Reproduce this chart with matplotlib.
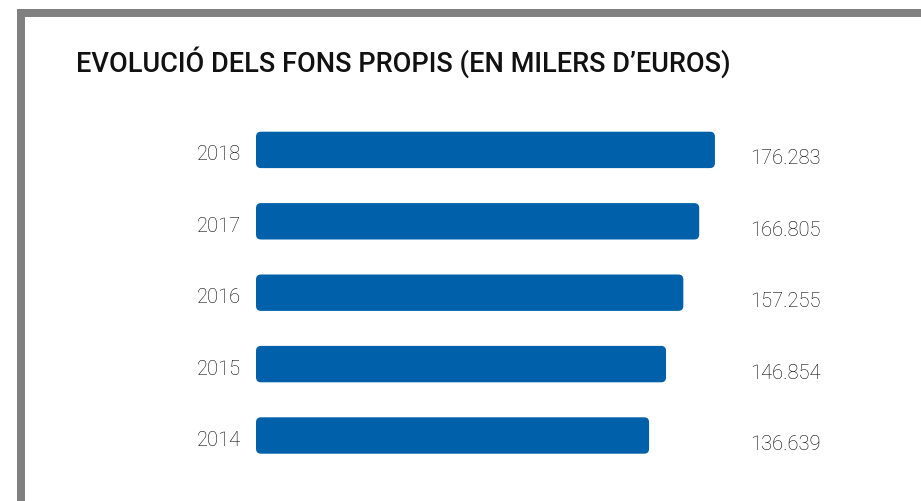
import matplotlib
matplotlib.use("Agg")
import matplotlib.pyplot as plt
from matplotlib.patches import FancyBboxPatch, Rectangle
import matplotlib.transforms as mtransforms

years = ["2014", "2015", "2016", "2017", "2018"]
values = [136639, 146854, 157255, 166805, 176283]
value_labels = ["136.639", "146.854", "157.255", "166.805", "176.283"]
title = "EVOLUCIÓ DELS FONS PROPIS (EN MILERS D\u2019EUROS)"

W, H, DPI = 921, 501, 100
BAR_COLOR = "#0061AA"
BASE = -100000          # where the bars start on the value axis
UNITS_PER_PX = 602.0    # value units per pixel
BAR_LEFT_PX = 256
ROW_PX = 71.4           # pixel spacing between rows
ROW0_PX = 435.5         # pixel y (from top) of the lowest row centre
BAR_H = 0.51

fig = plt.figure(figsize=(W / DPI, H / DPI), dpi=DPI)
ax = fig.add_axes([0, 0, 1, 1])
ax.set_xlim(BASE - BAR_LEFT_PX * UNITS_PER_PX, BASE + (W - BAR_LEFT_PX) * UNITS_PER_PX)
ax.set_ylim((ROW0_PX - H) / ROW_PX, ROW0_PX / ROW_PX)
ax.axis("off")

# aspect between y units and x units per pixel, for rounded corners
y_per_px = 1.0 / ROW_PX
aspect = y_per_px / UNITS_PER_PX
radius = 5 * UNITS_PER_PX

label_kw = dict(fontsize=14.5, family="Roboto", fontweight="light", color="#000000")

for i, (yr, v, lab) in enumerate(zip(years, values, value_labels)):
    box = FancyBboxPatch((BASE, i - BAR_H / 2), v - BASE, BAR_H,
                         boxstyle=f"round,pad=0,rounding_size={radius}",
                         mutation_aspect=aspect,
                         facecolor=BAR_COLOR, edgecolor="none")
    ax.add_patch(box)
    off = mtransforms.offset_copy(ax.transData, fig=fig, x=-15, y=-5, units="dots")
    ax.text(BASE, i, yr, transform=off, ha="right", va="center", **label_kw)
    tr = mtransforms.blended_transform_factory(fig.transFigure, ax.transData)
    off2 = mtransforms.offset_copy(tr, fig=fig, x=0, y=-9, units="dots")
    ax.text(750 / W, i, lab, transform=off2, ha="left", va="center", **label_kw)

# grey frame on top and left
grey = "#808080"
fig.patches.append(Rectangle((17 / W, 1 - 17 / H), 1 - 17 / W, 8 / H,
                             transform=fig.transFigure, facecolor=grey, edgecolor="none"))
fig.patches.append(Rectangle((17 / W, 0), 8 / W, 1 - 9 / H,
                             transform=fig.transFigure, facecolor=grey, edgecolor="none"))

fig.text(76 / W, 1 - 72 / H, title, ha="left", va="baseline", fontsize=19.5,
         family="Roboto", fontweight="medium", color="#111111")

fig.savefig("out.png", dpi=DPI)
